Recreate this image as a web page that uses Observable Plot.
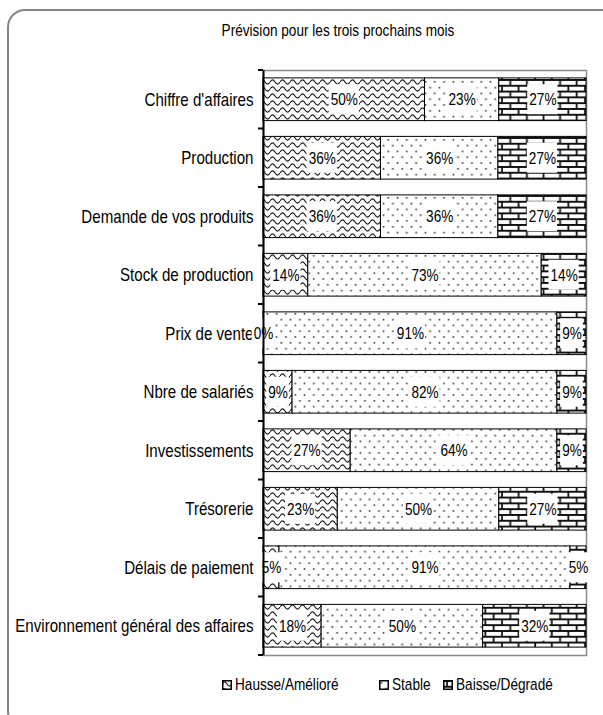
<!DOCTYPE html>
<html>
<head>
<meta charset="utf-8">
<script src="https://cdn.jsdelivr.net/npm/d3@7"></script>
<script src="https://cdn.jsdelivr.net/npm/@observablehq/plot@0.6"></script>
<style>
html, body { margin: 0; padding: 0; background: #fff; width: 603px; height: 715px; overflow: hidden; }
#wrap { position: relative; width: 603px; height: 715px; font-family: "Liberation Sans", Arial, sans-serif; color: #000; }
#frame { position: absolute; left: 7px; top: 9px; width: 620px; height: 720px; border: 2px solid #858585; border-radius: 18px; box-sizing: border-box; }
#title { position: absolute; top: 22px; left: 0; width: 676px; text-align: center; font-size: 17px; line-height: 18px; transform: scaleX(0.8); transform-origin: 338px 0; }
#chart { position: absolute; top: 50px; left: 0; }
.leg { position: absolute; top: 676px; font-size: 17px; line-height: 18px; display: flex; align-items: center; white-space: nowrap; }
.leg span { display: inline-block; transform: scaleX(0.8); transform-origin: 0 50%; }
.leg svg { margin-right: 3px; }
#defs { position: absolute; width: 0; height: 0; }
</style>
</head>
<body>
<div id="wrap">
  <svg id="defs" width="0" height="0">
    <defs>
      <pattern id="wave" patternUnits="userSpaceOnUse" width="10" height="7">
        <rect width="10" height="7" fill="#fff"/>
        <path d="M0,4 Q2.5,-0.2 5,4 T10,4" fill="none" stroke="#222" stroke-width="1.2"/>
      </pattern>
      <pattern id="dots" patternUnits="userSpaceOnUse" width="9.3" height="11.6">
        <rect width="9.3" height="11.6" fill="#fff"/>
        <rect x="1.5" y="2" width="1.6" height="1.6" fill="#333"/>
        <rect x="6.15" y="7.8" width="1.6" height="1.6" fill="#333"/>
      </pattern>
      <pattern id="brick" patternUnits="userSpaceOnUse" width="16.6" height="11.6">
        <rect width="16.6" height="11.6" fill="#fff"/>
        <path d="M0,1 H16.6 M0,6.8 H16.6 M4,1 V6.8 M12.3,6.8 V11.6" fill="none" stroke="#111" stroke-width="1.8"/>
      </pattern>
    </defs>
  </svg>
  <div id="frame"></div>
  <div id="title">Prévision pour les trois prochains mois</div>
  <div id="chart"></div>
</div>
<script>
const categories = [
  "Chiffre d'affaires",
  "Production",
  "Demande de vos produits",
  "Stock de production",
  "Prix de vente",
  "Nbre de salariés",
  "Investissements",
  "Trésorerie",
  "Délais de paiement",
  "Environnement général des affaires"
];
const series = ["Hausse/Amélioré", "Stable", "Baisse/Dégradé"];
const hausse = [50, 36, 36, 14, 0, 9, 27, 23, 5, 18];
const stable = [23, 36, 36, 73, 91, 82, 64, 50, 91, 50];
const baisse = [27, 27, 27, 14, 9, 9, 9, 27, 5, 32];
const patterns = ["url(#wave)", "url(#dots)", "url(#brick)"];

const FONT = '"Liberation Sans", Arial, sans-serif';
const LABEL_SIZE = 17;
const AXIS_SIZE = 18;
const NARROW = 0.8;      // horizontal condensing of value labels (Arial Narrow look)
const AXIS_NARROW = 0.84; // horizontal condensing of category labels

// build stacked (normalized) table
const rows = [];
categories.forEach((cat, i) => {
  const vals = [hausse[i], stable[i], baisse[i]];
  const total = d3.sum(vals);
  let acc = 0;
  vals.forEach((v, j) => {
    const x1 = acc / total;
    acc += v;
    const x2 = acc / total;
    rows.push({cat, series: series[j], value: v, x1, x2, mid: (x1 + x2) / 2, label: v + "%"});
  });
});

const ctx = document.createElement("canvas").getContext("2d");
ctx.font = `${LABEL_SIZE}px ${FONT}`;

function labelBoxes(index, scales) {
  const {x, y} = scales;
  const bw = typeof y.bandwidth === "function" ? y.bandwidth() : y.bandwidth;
  const g = d3.create("svg:g");
  for (const d of rows) {
    const w = ctx.measureText(d.label).width * NARROW + 3;
    const cx = x(d.mid);
    const cy = y(d.cat) + bw / 2;
    g.append("rect").attr("x", cx - w / 2).attr("y", cy - 15).attr("width", w).attr("height", 30).attr("fill", "#fff");
  }
  return g.node();
}

function bandTicks(index, scales) {
  const {x, y} = scales;
  const bw = typeof y.bandwidth === "function" ? y.bandwidth() : y.bandwidth;
  const step = typeof y.step === "function" ? y.step() : y.step;
  const gap = (step - bw) / 2;
  const ys = categories.map(c => y(c) - gap);
  ys.push(y(categories[categories.length - 1]) + bw + gap);
  const x0 = x(0);
  const g = d3.create("svg:g");
  for (const yy of ys) {
    g.append("line").attr("x1", x0 - 5).attr("x2", x0).attr("y1", yy).attr("y2", yy).attr("stroke", "#000").attr("stroke-width", 2);
  }
  return g.node();
}

const plot = Plot.plot({
  width: 603,
  height: 620,
  marginTop: 20,
  marginBottom: 15,
  marginLeft: 263,
  marginRight: 17,
  style: {fontFamily: FONT, fontSize: AXIS_SIZE + "px", color: "#000", background: "transparent", overflow: "visible"},
  x: {domain: [0, 1], axis: null},
  y: {domain: categories, paddingInner: 0.27, paddingOuter: 0.135, round: false, tickSize: 0, tickPadding: 10, label: null},
  color: {domain: series, range: patterns},
  marks: [
    Plot.frame({stroke: "#8a8a8a", strokeWidth: 1.5}),
    Plot.barX(rows, {x1: "x1", x2: "x2", y: "cat", fill: "series", stroke: "#000", strokeWidth: 1}),
    labelBoxes,
    Plot.text(rows, {x: "mid", y: "cat", text: "label", fontSize: LABEL_SIZE, fill: "#000"}),
    Plot.ruleX([0], {stroke: "#000", strokeWidth: 2}),
    bandTicks
  ]
});

// condense all texts horizontally around their anchor
plot.querySelectorAll("text").forEach(t => {
  const isAxis = !!t.closest('[aria-label*="axis"]');
  const k = isAxis ? AXIS_NARROW : NARROW;
  const tr = t.getAttribute("transform") || "";
  t.setAttribute("transform", (tr + ` scale(${k},1)`).trim());
  const xa = t.getAttribute("x");
  if (xa != null && xa !== "") t.setAttribute("x", parseFloat(xa) / k);
});
document.getElementById("chart").appendChild(plot);

// legend
const legLeft = [222, 379, 443];
const wrap = document.getElementById("wrap");
series.forEach((s, j) => {
  const div = document.createElement("div");
  div.className = "leg";
  div.style.left = legLeft[j] + "px";
  div.innerHTML = `<svg width="10" height="10"><rect x="0.75" y="0.75" width="8.5" height="8.5" fill="${patterns[j]}" stroke="#000" stroke-width="1.5"/></svg><span>${s}</span>`;
  wrap.appendChild(div);
});
</script>
</body>
</html>
